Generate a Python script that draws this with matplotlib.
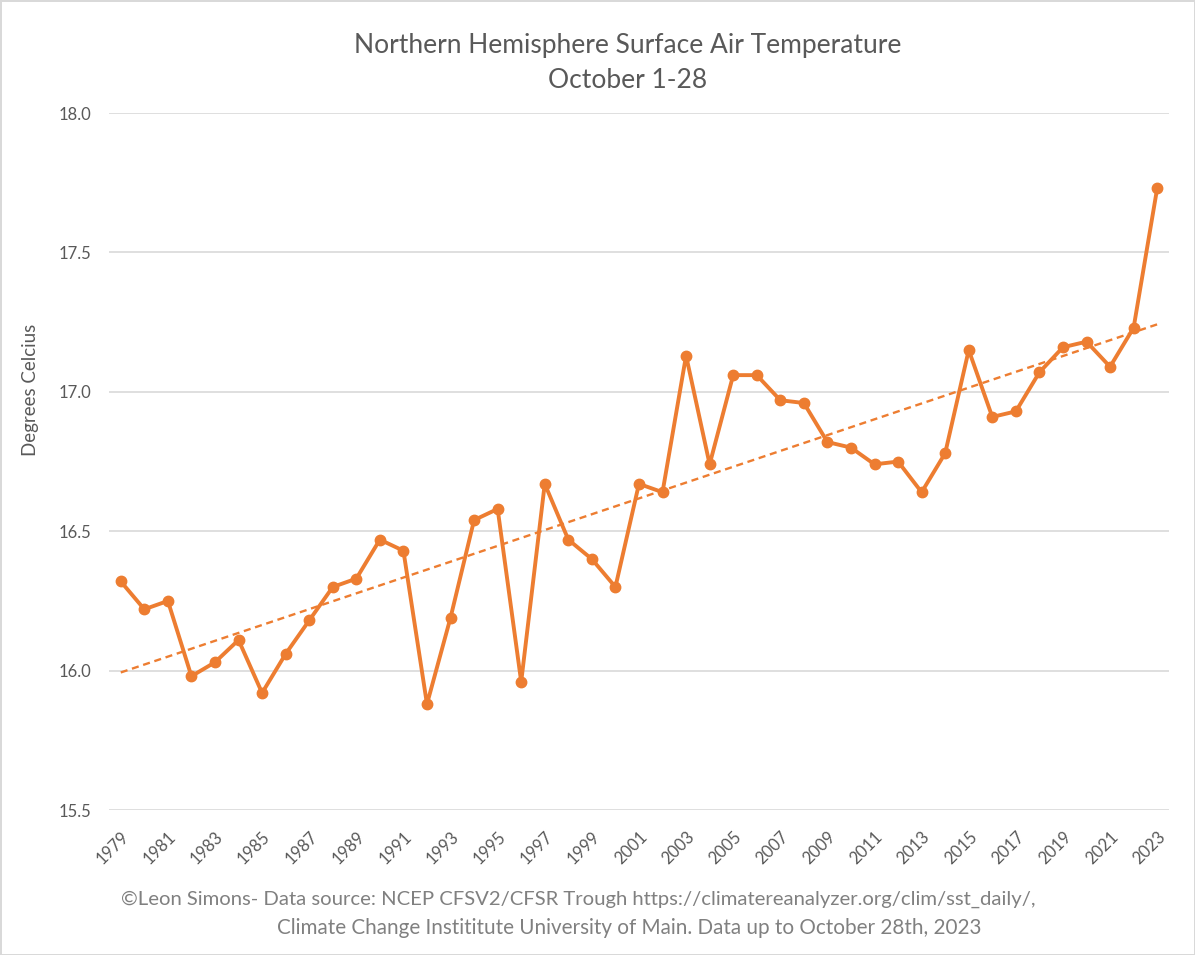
import matplotlib.pyplot as plt
import numpy as np

years = list(range(1979, 2024))
temps = [16.32, 16.22, 16.25, 15.98, 16.03, 16.11, 15.92, 16.06, 16.18, 16.30,
         16.33, 16.47, 16.43, 15.88, 16.19, 16.54, 16.58, 15.96, 16.67, 16.47,
         16.40, 16.30, 16.67, 16.64, 17.13, 16.74, 17.06, 17.06, 16.97, 16.96,
         16.82, 16.80, 16.74, 16.75, 16.64, 16.78, 17.15, 16.91, 16.93, 17.07,
         17.16, 17.18, 17.09, 17.23, 17.73]
yticks = [15.5, 16.0, 16.5, 17.0, 17.5, 18.0]

orange = '#ED7D31'
text_gray = '#595959'
plt.rcParams['font.family'] = ['Lato', 'DejaVu Sans']

fig = plt.figure(figsize=(11.95, 9.55), dpi=100)
fig.patch.set_edgecolor('#D9D9D9')
fig.patch.set_linewidth(2)
ax = fig.add_axes([0.0912, 0.1518, 0.887, 0.7298])

ax.plot(years, temps, color=orange, lw=2.8, marker='o', ms=7.5, zorder=3)

# linear trendline
coef = np.polyfit(years, temps, 1)
x = np.array([years[0], years[-1]])
ax.plot(x, np.polyval(coef, x), color=orange, lw=1.7, ls=(0, (3, 2)), zorder=2)

ax.set_xlim(years[0] - 0.5, years[-1] + 0.5)
ax.set_ylim(15.5, 18.0)
ax.set_yticks(yticks)
ax.set_yticklabels([f'{v:.1f}' for v in yticks])
ax.set_xticks(years[::2])
ax.set_xticklabels([str(y) for y in years[::2]], rotation=45, ha='right',
                   rotation_mode='anchor')
ax.tick_params(axis='both', length=0, labelsize=12, labelcolor=text_gray)
ax.tick_params(axis='y', pad=13)
ax.tick_params(axis='x', pad=13)
ax.grid(axis='y', color='#D9D9D9', lw=1.2)
ax.set_axisbelow(True)
for s in ax.spines.values():
    s.set_visible(False)

ax.set_ylabel('Degrees Celcius', fontsize=13.5, color=text_gray)
ax.yaxis.set_label_coords(-0.066, 0.603)

fig.text(0.525, 1 - 46 / 955, 'Northern Hemisphere Surface Air Temperature',
         ha='center', va='center', fontsize=19, color=text_gray)
fig.text(0.525, 1 - 81 / 955, 'October 1-28',
         ha='center', va='center', fontsize=19, color=text_gray)

fig.text(578.5 / 1195, 1 - 899 / 955,
         '©Leon Simons- Data source: NCEP CFSV2/CFSR Trough https://climatereanalyzer.org/clim/sst_daily/,',
         ha='center', va='center', fontsize=14.6, color='#808080')
fig.text(629.5 / 1195, 1 - 928 / 955,
         'Climate Change Instititute University of Main. Data up to October 28th, 2023',
         ha='center', va='center', fontsize=14.9, color='#808080')

plt.savefig('out.png', dpi=100, edgecolor=fig.get_edgecolor())
